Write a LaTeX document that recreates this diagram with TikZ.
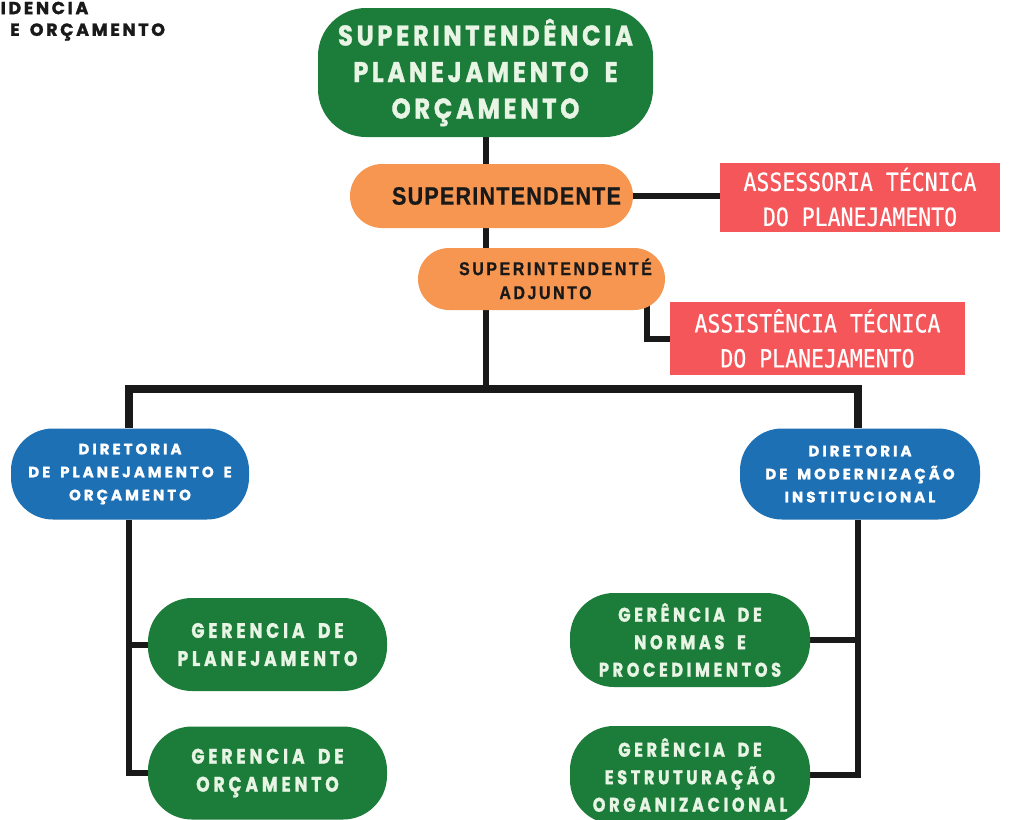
\documentclass[tikz,border=0pt]{standalone}
\usepackage{fontspec}
\usetikzlibrary{backgrounds,calc}

% Typefaces
\newfontfamily\headfont{Poppins}[FakeStretch=0.85,LetterSpace=13,WordSpace=1.8,FakeBold=1.2]
\newfontfamily\unitfont{Poppins}[FakeStretch=0.82,LetterSpace=18,WordSpace=1.8,FakeBold=1.2]
\newfontfamily\dirfont{Poppins}[LetterSpace=20,WordSpace=1.6,FakeBold=1.4]
\newfontfamily\cornerfont{Poppins}[LetterSpace=15,WordSpace=1.6,FakeBold=1.4]
\newfontfamily\techfont{DejaVu Sans Mono}[FakeStretch=0.86,FakeBold=0.5]
\newfontfamily\bossfont{Liberation Sans}[FakeStretch=0.86,LetterSpace=5,FakeBold=0.8]
\newfontfamily\deputyfont{Liberation Sans}[FakeStretch=0.86,LetterSpace=14,WordSpace=1.5,FakeBold=0.8]

% Palette
\definecolor{orggreen}{RGB}{28,124,58}
\definecolor{orgorange}{RGB}{246,150,80}
\definecolor{orgred}{RGB}{245,86,90}
\definecolor{orgblue}{RGB}{30,112,180}
\definecolor{mint}{RGB}{232,245,228}
\definecolor{ink}{RGB}{25,25,25}

\begin{document}
\begin{tikzpicture}[x=1pt,y=-1pt,
  box/.style={inner sep=0pt,align=center},
  headbox/.style={box,fill=orggreen,text=mint,minimum width=335pt,minimum height=129pt,
    rounded corners=48pt,font=\headfont\bfseries\fontsize{28.5}{36.5}\selectfont},
  bossbox/.style={box,fill=orgorange,text=ink,minimum width=283pt,minimum height=64pt,
    rounded corners=32pt,font=\bossfont\bfseries\fontsize{25}{28}\selectfont},
  deputybox/.style={box,fill=orgorange,text=ink,minimum width=247pt,minimum height=62pt,
    rounded corners=31pt,font=\deputyfont\bfseries\fontsize{18.5}{24}\selectfont},
  techbox/.style={box,fill=orgred,text=white,font=\techfont\fontsize{25}{35}\selectfont},
  dirbox/.style={box,fill=orgblue,text=white,minimum width=238pt,minimum height=91pt,
    rounded corners=42pt,font=\dirfont\bfseries\fontsize{15}{23}\selectfont},
  unitbox/.style={box,fill=orggreen,text=mint,minimum width=239pt,minimum height=93pt,
    rounded corners=44pt,font=\unitfont\bfseries\fontsize{21}{28}\selectfont},
  unitboxr/.style={unitbox,minimum width=240pt,minimum height=94pt,
    font=\unitfont\bfseries\fontsize{19.8}{27.5}\selectfont},
  corner/.style={inner sep=0pt,text=ink,font=\cornerfont\bfseries\fontsize{17.5}{20}\selectfont},
  link/.style={draw=ink,line width=6pt},
  barlink/.style={draw=ink,line width=8pt}]

\useasboundingbox (0,0) rectangle (1011,819);
\clip (0,0) rectangle (1011,819);

% heading fragment in the corner
\node[corner,anchor=west] (cornerA) at (0.5,8) {IDENCIA};
\node[corner,anchor=west] (cornerB) at (10,32) {E ORÇAMENTO};

% top of the hierarchy
\node[headbox] (top) at (485.5,72.5) {SUPERINTENDÊNCIA\\PLANEJAMENTO E\\ORÇAMENTO};
\node[bossbox] (boss) at (491.5,196) {\hspace*{30pt}SUPERINTENDENTE};
\node[deputybox] (deputy) at (541.5,279) {\hspace*{28pt}SUPERINTENDENTÉ\\\hspace*{8pt}ADJUNTO};

% advisory units
\node[techbox,minimum width=280pt,minimum height=69pt] (tech1) at (860,197)
  {ASSESSORIA TÉCNICA\\DO PLANEJAMENTO};
\node[techbox,minimum width=295pt,minimum height=73pt] (tech2) at (817.5,338.5)
  {ASSISTÊNCIA TÉCNICA\\DO PLANEJAMENTO};

% directorates
\node[dirbox] (dirl) at (130,474) {DIRETORIA\\DE PLANEJAMENTO E\\ORÇAMENTO};
\node[dirbox,minimum width=240pt] (dirr) at (860,474) {DIRETORIA\\DE MODERNIZAÇÃO\\INSTITUCIONAL};

% managements
\node[unitbox] (unitl1) at (267.5,644.5) {GERENCIA DE\\PLANEJAMENTO};
\node[unitbox] (unitl2) at (267.5,773) {GERENCIA DE\\ORÇAMENTO};
\node[unitboxr] (unitr1) at (690,640) {GERÊNCIA DE\\NORMAS E\\PROCEDIMENTOS};
\node[unitboxr,minimum height=98pt] (unitr2) at (690,775) {GERÊNCIA DE\\ESTRUTURAÇÃO\\ORGANIZACIONAL};

% connectors, kept behind the boxes
\coordinate (hub) at (485.5,389);
\coordinate (tap) at (647,0);
\coordinate (spl) at (129,0);
\coordinate (spr) at (858,0);
\begin{scope}[on background layer]
  \fill[white] (0,0) rectangle (1011,819);
  \draw[link] (top.south) -- (top.south |- boss.north);
  \draw[link] (boss.east) -- (boss.east -| tech1.west);
  \draw[link] (top.south |- boss.south) -- (top.south |- deputy.north);
  \draw[link] (top.south |- deputy.south) -- (hub);
  \draw[link] (deputy.center -| tap) |- (tech2.west);
  \draw[barlink] (spl |- dirl.north) |- (hub) -| (spr |- dirr.north);
  \draw[link] (spl |- dirl.south) |- (unitl2.west);
  \draw[link] (spl |- unitl1.west) -- (unitl1.west);
  \draw[link] (spr |- dirr.south) |- (unitr2.east);
  \draw[link] (spr |- unitr1.east) -- (unitr1.east);
\end{scope}
\end{tikzpicture}
\end{document}
